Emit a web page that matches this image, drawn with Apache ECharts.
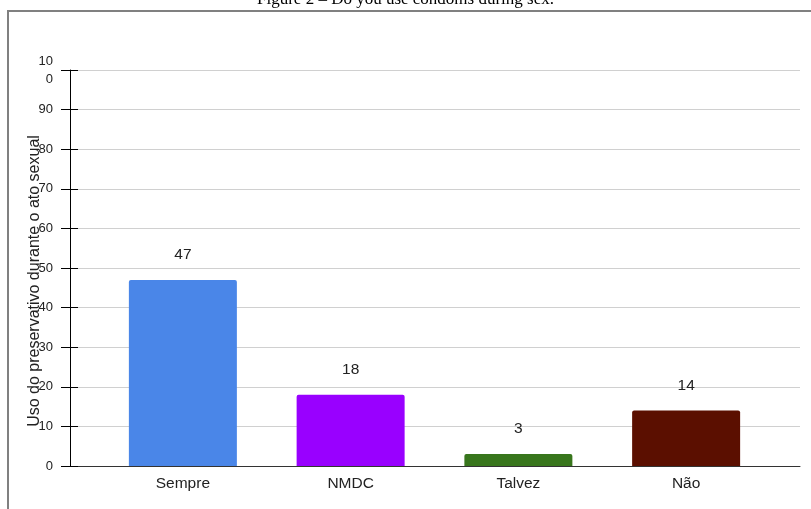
<!DOCTYPE html>
<html>
<head>
<meta charset="utf-8">
<script src="https://cdn.jsdelivr.net/npm/echarts@6/dist/echarts.min.js"></script>
<style>
  html, body { margin: 0; padding: 0; background: #fff; }
  #chart { width: 811px; height: 509px; }
</style>
</head>
<body>
<div id="chart"></div>
<script>
// Responses to "Do you use condoms during sex?"
const categories = ['Sempre', 'NMDC', 'Talvez', 'Não'];
const counts = [47, 18, 3, 14];
const barColors = ['#4a86e8', '#9900ff', '#38761d', '#5b0f00'];
const yTicks = [0, 10, 20, 30, 40, 50, 60, 70, 80, 90, 100];

const sans = "'Liberation Sans', Arial, sans-serif";
const yMin = yTicks[0];
const yMax = yTicks[yTicks.length - 1];
const yStep = yTicks[1] - yTicks[0];

const chart = echarts.init(document.getElementById('chart'), null, { renderer: 'canvas' });

chart.setOption({
  backgroundColor: '#ffffff',
  animation: false,
  graphic: [
    // caption above the frame
    {
      type: 'text', left: 'center', top: -9,
      style: {
        text: 'Figure 2 – Do you use condoms during sex.',
        font: "17px 'Liberation Serif', 'Times New Roman', serif",
        fill: '#000'
      }
    },
    // frame lines
    { type: 'line', shape: { x1: 8, y1: 11, x2: 811, y2: 11 }, style: { stroke: '#808080', lineWidth: 2 } },
    { type: 'line', shape: { x1: 8, y1: 10, x2: 8, y2: 509 }, style: { stroke: '#808080', lineWidth: 2 } }
  ],
  grid: [
    { left: 70, right: 11, top: 70, bottom: 43 },
    { left: 99, right: 41, top: 70, bottom: 43 }
  ],
  xAxis: [
    {
      gridIndex: 0, type: 'value', min: 0, max: 1,
      axisLine: { show: true, lineStyle: { color: '#333', width: 1 } },
      axisTick: { show: false }, axisLabel: { show: false }, splitLine: { show: false }
    },
    {
      gridIndex: 1, type: 'category', data: categories,
      axisLine: { show: false }, axisTick: { show: false },
      axisLabel: { margin: 10, fontFamily: sans, fontSize: 15.5, color: '#222' }
    }
  ],
  yAxis: [
    {
      gridIndex: 0, type: 'value', min: yMin, max: yMax, interval: yStep,
      name: 'Uso do preservativo durante o ato sexual',
      nameLocation: 'middle', nameGap: 27, nameMoveOverlap: false,
      nameTextStyle: { fontFamily: sans, fontSize: 16, color: '#222', padding: [0, 26, 0, 0] },
      axisLine: { show: true, lineStyle: { color: '#000', width: 1 } },
      axisTick: { show: true, length: 9, lineStyle: { color: '#000' } },
      axisLabel: {
        margin: 17, fontFamily: sans, fontSize: 13, color: '#222', lineHeight: 18,
        formatter: v => (v === 100 ? '10\n0' : String(v))
      },
      splitLine: { show: true, lineStyle: { color: '#d0d0d0', width: 1 } }
    },
    {
      gridIndex: 0, type: 'value', min: yMin, max: yMax, interval: yStep, position: 'left',
      axisLine: { show: false },
      axisTick: { show: true, inside: true, length: 8, lineStyle: { color: '#000' } },
      axisLabel: { show: false }, splitLine: { show: false }
    },
    {
      gridIndex: 1, type: 'value', min: yMin, max: yMax, interval: yStep, show: false
    }
  ],
  series: [
    {
      type: 'bar', xAxisIndex: 1, yAxisIndex: 2,
      barWidth: 108,
      data: counts.map((v, i) => ({
        value: v,
        itemStyle: { color: barColors[i], borderRadius: [2, 2, 0, 0] }
      })),
      label: {
        show: true, position: 'top', distance: 17,
        fontFamily: sans, fontSize: 15.5, color: '#222'
      }
    }
  ]
});
</script>
</body>
</html>
